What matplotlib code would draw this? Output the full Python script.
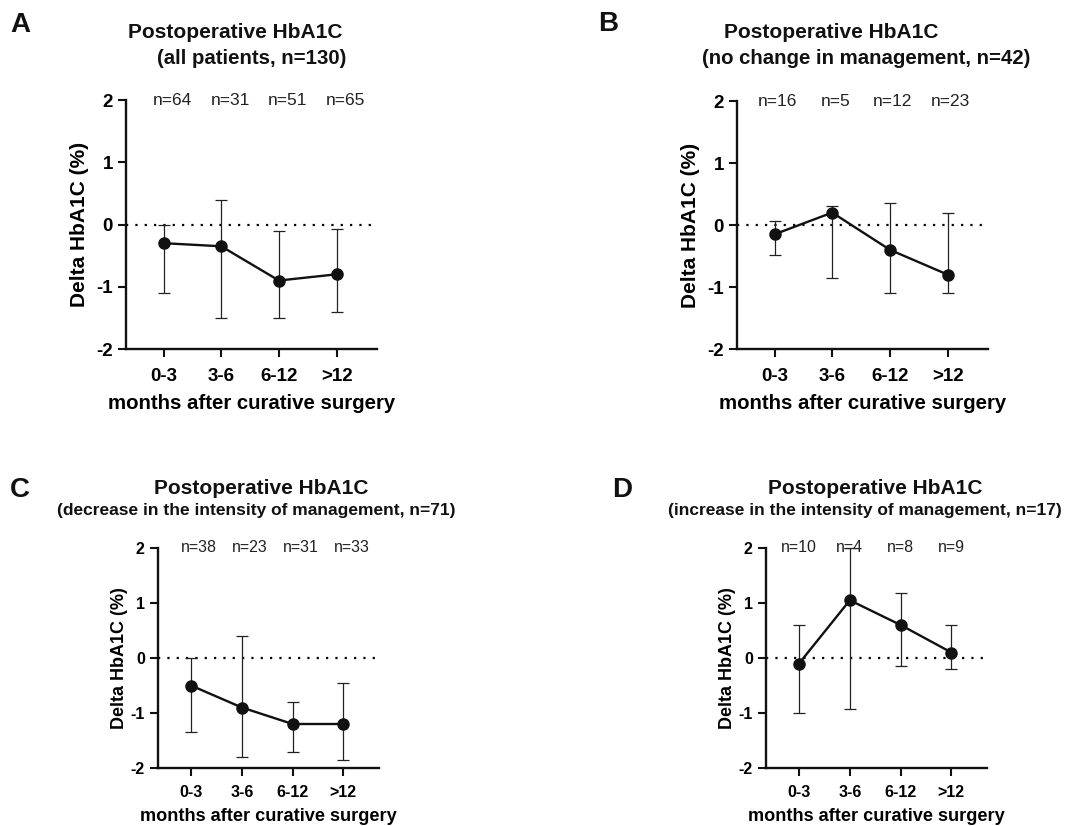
import numpy as np
import matplotlib.pyplot as plt

plt.rcParams['font.family'] = ['Liberation Sans', 'DejaVu Sans']

# time windows after surgery
categories = ['0-3', '3-6', '6-12', '>12']

# panel A - all patients
a_mid = [-0.30, -0.35, -0.90, -0.80]
a_low = [-1.10, -1.50, -1.50, -1.40]
a_high = [0.00, 0.40, -0.11, -0.08]
a_n = [64, 31, 51, 65]

# panel B - no change in management
b_mid = [-0.15, 0.20, -0.40, -0.80]
b_low = [-0.48, -0.86, -1.10, -1.10]
b_high = [0.07, 0.30, 0.35, 0.20]
b_n = [16, 5, 12, 23]

# panel C - decrease in intensity
c_mid = [-0.50, -0.90, -1.20, -1.20]
c_low = [-1.35, -1.80, -1.70, -1.85]
c_high = [0.00, 0.40, -0.80, -0.45]
c_n = [38, 23, 31, 33]

# panel D - increase in intensity
d_mid = [-0.10, 1.05, 0.60, 0.10]
d_low = [-1.00, -0.93, -0.15, -0.20]
d_high = [0.60, 2.00, 1.18, 0.60]
d_n = [10, 4, 8, 9]

W, H = 1083, 826
fig = plt.figure(figsize=(W / 100, H / 100), dpi=100)

# font sizes: top row panels were pasted in a bit larger than the bottom row
big = dict(tick=13.5, n=12.5, ylab=15, xlab=14.7, sub=14.7, xpad=8, ypad=5)
small = dict(tick=11.5, n=11.5, ylab=13, xlab=13.1, sub=12.5, xpad=6, ypad=2)


def px(x0, y0, x1, y1):
    # pixel box -> figure fraction rect
    return [x0 / W, 1 - y1 / H, (x1 - x0) / W, (y1 - y0) / H]


def panel(rect, mid, low, high, ns, letter, letter_xy, title, title_x, sub, sub_x,
          title_y, sub_y, n_off, fs):
    ax = fig.add_axes(rect)
    x = np.arange(1, len(categories) + 1)
    mid = np.array(mid)
    yerr = [mid - np.array(low), np.array(high) - mid]
    ax.axhline(0, color='black', lw=1.6, ls=(0, (1, 3.2)), zorder=1)
    ax.errorbar(x, mid, yerr=yerr, fmt='none', ecolor='#222222', elinewidth=0.9,
                capsize=4.3, capthick=0.9, zorder=2, clip_on=False)
    ax.plot(x, mid, color='#111111', lw=1.7, marker='o', ms=8, mfc='#111111',
            mec='#111111', zorder=3, clip_on=False)
    for xi, n in zip(x, ns):
        ax.annotate(f'n={n}', (xi, 2), xytext=(n_off, 0), textcoords='offset pixels',
                    ha='center', va='center', fontsize=fs['n'], color='#222222')
    ax.set_xlim(0.35, 4.7)
    ax.set_ylim(-2, 2)
    ax.set_xticks(x)
    ax.set_xticklabels(categories, fontsize=fs['tick'], fontweight='bold')
    ax.set_yticks([-2, -1, 0, 1, 2])
    ax.set_yticklabels(['-2', '-1', '0', '1', '2'], fontsize=fs['tick'], fontweight='bold')
    ax.tick_params(axis='both', direction='out', width=1.5, length=6, color='#111111')
    ax.tick_params(axis='x', pad=fs['xpad'])
    for s in ['top', 'right']:
        ax.spines[s].set_visible(False)
    for s in ['left', 'bottom']:
        ax.spines[s].set_linewidth(1.7)
        ax.spines[s].set_color('#111111')
    ax.set_ylabel('Delta HbA1C (%)', fontsize=fs['ylab'], fontweight='bold',
                  labelpad=fs['ypad'])
    ax.set_xlabel('months after curative surgery', fontsize=fs['xlab'],
                  fontweight='bold', labelpad=6)
    fig.text(letter_xy[0] / W, 1 - letter_xy[1] / H, letter, fontsize=20,
             fontweight='bold', ha='left', va='center', color='#111111')
    fig.text(title_x / W, 1 - title_y / H, title, fontsize=15, fontweight='bold',
             ha='center', va='center', color='#111111')
    fig.text(sub_x / W, 1 - sub_y / H, sub, fontsize=fs['sub'], fontweight='bold',
             ha='center', va='center', color='#111111')
    return ax


panel(px(126, 100, 377, 349), a_mid, a_low, a_high, a_n, 'A', (10, 25),
      'Postoperative HbA1C', 235, '(all patients, n=130)', 252, 32, 58, 9, big)
panel(px(737, 101, 988, 349), b_mid, b_low, b_high, b_n, 'B', (598, 24),
      'Postoperative HbA1C', 831, '(no change in management, n=42)', 866, 32, 58, 3, big)
panel(px(158, 548, 379, 768), c_mid, c_low, c_high, c_n, 'C', (10, 490),
      'Postoperative HbA1C', 261, '(decrease in the intensity of management, n=71)', 256,
      489, 511, 8, small)
panel(px(766, 548, 987, 768), d_mid, d_low, d_high, d_n, 'D', (612, 490),
      'Postoperative HbA1C', 875, '(increase in the intensity of management, n=17)', 865,
      489, 511, 0, small)

fig.savefig('out.png', dpi=100)
